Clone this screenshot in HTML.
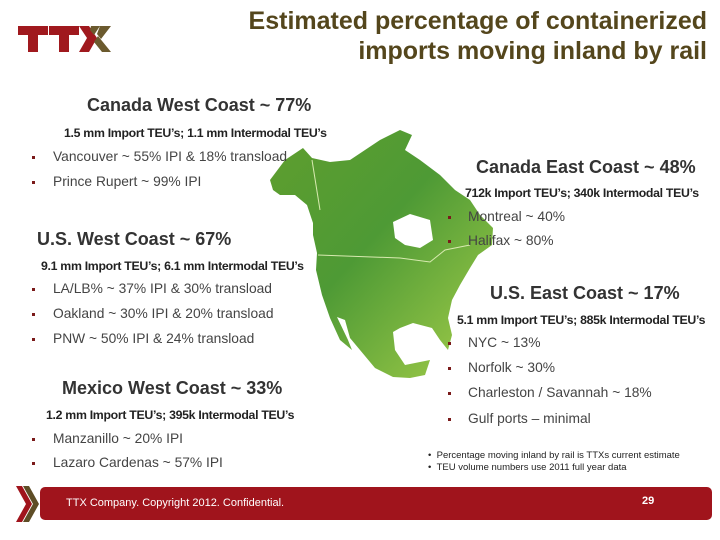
<!DOCTYPE html>
<html><head><meta charset="utf-8"><style>
body{margin:0;width:720px;height:540px;background:#fff;position:relative;overflow:hidden;font-family:"Liberation Sans",Arial,sans-serif;}
.t{position:absolute;white-space:nowrap;}
.h{font-weight:bold;font-size:18px;color:#333;}
.s{font-weight:bold;font-size:12.3px;color:#222;letter-spacing:-0.3px;}
.b{font-size:13.8px;color:#444;}
.d{position:absolute;width:3px;height:3px;background:#7a1a1a;}
</style></head><body>
<svg style="position:absolute;left:16px;top:24px" width="100" height="30" viewBox="0 0 100 30">
<path d="M2 2h30v9h-10v17h-10V11H2z" fill="#a0191e"/>
<path d="M33 2h30v9h-10v17h-10V11H33z" fill="#a0191e"/>
<path d="M63 2h10l8 12-8 14H63l8-14z" fill="#a0191e"/>
<path d="M75 2h9l-6 9-4-5z M78 18l4-6 13 16h-9z M84 2h11l-10 13-4-5z" fill="#6b5a2e"/>
</svg>
<div class="t" style="right:13px;top:6px;text-align:right;font-size:25px;font-weight:bold;color:#54461c;line-height:30px">Estimated percentage of containerized<br>imports moving inland by rail</div>

<svg style="position:absolute;left:0;top:0" width="720" height="540">
<defs><linearGradient id="g" x1="0" y1="0" x2="1" y2="1"><stop offset="0" stop-color="#5f9e2e"/><stop offset="0.45" stop-color="#4e9a35"/><stop offset="1" stop-color="#a6cf4a"/></linearGradient></defs>
<path fill="url(#g)" d="M270 180 L285 160 L303 148 L312 158 L330 162 L350 160 L365 150 L380 140 L400 130 L412 135 L405 150 L420 160 L440 175 L455 190 L470 200 L480 215 L493 228 L492 245 L478 255 L470 268 L460 285 L452 300 L448 318 L452 335 L448 350 L440 340 L432 328 L413 323 L400 328 L393 332 L395 350 L405 365 L420 362 L430 360 L425 375 L410 378 L393 377 L375 368 L360 350 L350 338 L345 320 L337 317 L348 340 L352 350 L340 340 L330 318 L322 295 L316 270 L317 253 L313 235 L313 223 L307 205 L295 195 L280 195 L273 190 Z"/>
<path fill="#fff" d="M393 222 L410 214 L430 220 L433 240 L420 248 L405 245 L395 238 Z"/>
<path fill="none" stroke="#d8eab0" stroke-width="1" d="M318 255 L400 258 L430 262 L445 250 L470 245 M312 160 L320 210"/>
</svg>

<div class="t h" style="left:87px;top:95px">Canada West Coast ~ 77%</div>
<div class="t s" style="left:64px;top:126px">1.5 mm Import TEU’s; 1.1 mm Intermodal TEU’s</div>
<div class="d" style="left:32px;top:156px"></div><div class="t b" style="left:53px;top:149px">Vancouver ~ 55% IPI &amp; 18% transload</div>
<div class="d" style="left:32px;top:181px"></div><div class="t b" style="left:53px;top:174px">Prince Rupert ~ 99% IPI</div>

<div class="t h" style="left:37px;top:229px">U.S. West Coast ~ 67%</div>
<div class="t s" style="left:41px;top:259px">9.1 mm Import TEU’s; 6.1 mm Intermodal TEU’s</div>
<div class="d" style="left:32px;top:288px"></div><div class="t b" style="left:53px;top:281px">LA/LB% ~ 37% IPI &amp; 30% transload</div>
<div class="d" style="left:32px;top:313px"></div><div class="t b" style="left:53px;top:306px">Oakland ~ 30% IPI &amp; 20% transload</div>
<div class="d" style="left:32px;top:338px"></div><div class="t b" style="left:53px;top:331px">PNW ~ 50% IPI &amp; 24% transload</div>

<div class="t h" style="left:62px;top:378px">Mexico West Coast ~ 33%</div>
<div class="t s" style="left:46px;top:408px">1.2 mm Import TEU’s; 395k Intermodal TEU’s</div>
<div class="d" style="left:32px;top:438px"></div><div class="t b" style="left:53px;top:431px">Manzanillo ~ 20% IPI</div>
<div class="d" style="left:32px;top:462px"></div><div class="t b" style="left:53px;top:455px">Lazaro Cardenas ~ 57% IPI</div>

<div class="t h" style="left:476px;top:157px">Canada East Coast ~ 48%</div>
<div class="t s" style="left:465px;top:186px">712k Import TEU’s; 340k Intermodal TEU’s</div>
<div class="d" style="left:448px;top:216px"></div><div class="t b" style="left:468px;top:209px">Montreal ~ 40%</div>
<div class="d" style="left:448px;top:240px"></div><div class="t b" style="left:468px;top:233px">Halifax ~ 80%</div>

<div class="t h" style="left:490px;top:283px">U.S. East Coast ~ 17%</div>
<div class="t s" style="left:457px;top:313px">5.1 mm Import TEU’s; 885k Intermodal TEU’s</div>
<div class="d" style="left:448px;top:342px"></div><div class="t b" style="left:468px;top:335px">NYC ~ 13%</div>
<div class="d" style="left:448px;top:367px"></div><div class="t b" style="left:468px;top:360px">Norfolk ~ 30%</div>
<div class="d" style="left:448px;top:392px"></div><div class="t b" style="left:468px;top:385px">Charleston / Savannah ~ 18%</div>
<div class="d" style="left:448px;top:418px"></div><div class="t b" style="left:468px;top:411px">Gulf ports – minimal</div>

<div class="t" style="left:428px;top:450px;font-size:9.5px;color:#222;line-height:12px">•&nbsp;&nbsp;Percentage moving inland by rail is TTXs current estimate<br>•&nbsp;&nbsp;TEU volume numbers use 2011 full year data</div>

<svg style="position:absolute;left:14px;top:486px" width="26" height="36"><path d="M2 0h6l10 18-10 18H2l10-18z" fill="#a0141c"/><path d="M9 0h6l10 18-10 18H9l10-18z" fill="#5e4d26"/></svg>
<div style="position:absolute;left:40px;top:487px;width:672px;height:33px;background:#a0141c;border-radius:5px"></div>
<div class="t" style="left:66px;top:497px;font-size:11px;color:#fff">TTX Company. Copyright 2012. Confidential.</div>
<div class="t" style="left:642px;top:495px;font-size:11px;font-weight:bold;color:#fff">29</div>
</body></html>
